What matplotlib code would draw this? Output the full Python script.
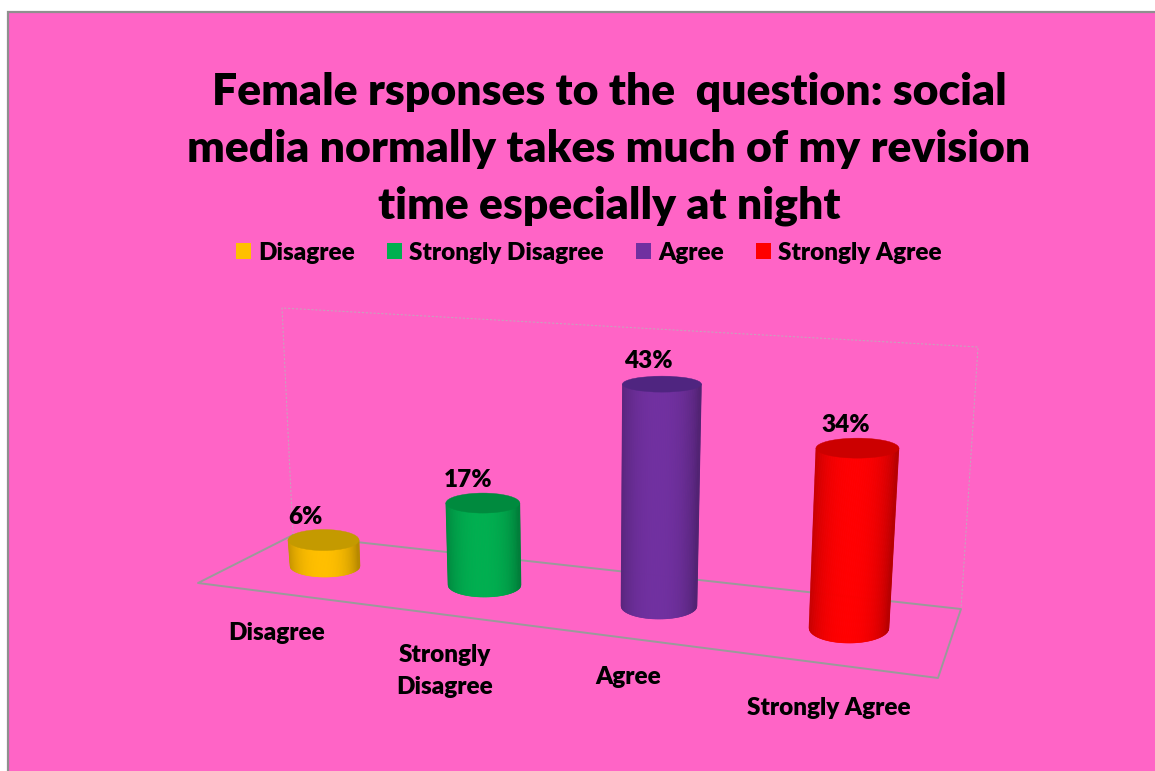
import matplotlib
matplotlib.use("Agg")
import matplotlib.pyplot as plt
from matplotlib.collections import PolyCollection
from matplotlib.patches import Ellipse, Patch, Rectangle
import numpy as np

plt.rcParams["font.family"] = ["Lato", "DejaVu Sans"]
plt.rcParams["font.weight"] = "bold"

categories = ["Disagree", "Strongly Disagree", "Agree", "Strongly Agree"]
tick_labels = ["Disagree", "Strongly\nDisagree", "Agree", "Strongly Agree"]
values = [6, 17, 43, 34]

colors = ["#FFC000", "#00B050", "#7030A0", "#FF0000"]
top_colors = ["#C49A00", "#008A3E", "#4F2580", "#CC0000"]
pink = "#FF64C6"

# floor position and perspective of each cylinder
base_x = [325, 484.5, 659, 849]
base_y = [566, 585, 606, 628]
px_per_pct = [4.33, 4.82, 5.16, 5.29]
rx_bottom = [35, 36.5, 38, 40]
rx_top = [35.5, 37, 39.5, 41.5]
ry_bottom = [11, 12, 13, 15]
ry_top = [10.5, 10, 8, 10]
vanish_x = 587
lean = 0.00095

tick_x = [277, 445, 628, 829]
tick_y = [633, 671, 677, 708]
label_dx = [-18, -15, -14, -12]


def cylinder(ax, x, y, value, scale, rx_b, rx_t, ry_b, ry_t, color, top_color):
    h = value * scale
    top_x = x + (x - vanish_x) * lean * value
    top_y = y - h

    t = np.linspace(-1, 1, 121)
    polys = []
    shades = []
    for a, b in zip(t[:-1], t[1:]):
        polys.append([
            (top_x + a * rx_t, top_y),
            (top_x + b * rx_t, top_y),
            (x + b * rx_b, y + ry_b * np.sqrt(1 - b ** 2)),
            (x + a * rx_b, y + ry_b * np.sqrt(1 - a ** 2)),
        ])
        mid = (a + b) / 2 + 0.05
        shades.append(0.72 + 0.28 * np.clip(1 - abs(mid) ** 2.4, 0, 1) ** 0.8)

    rgb = np.array(matplotlib.colors.to_rgb(color))
    face = [tuple(rgb * s) for s in shades]
    ax.add_collection(PolyCollection(polys, facecolors=face, edgecolors=face,
                                     linewidths=0.4, zorder=3))
    ax.add_patch(Ellipse((top_x, top_y), 2 * rx_t, 2 * ry_t, facecolor=top_color,
                         edgecolor=top_color, linewidth=0.3, zorder=4))
    return top_x, top_y


fig = plt.figure(figsize=(11.55, 7.71), dpi=100, facecolor="white")
ax = fig.add_axes([0, 0, 1, 1])
ax.set_xlim(0, 1155)
ax.set_ylim(771, 0)
ax.axis("off")

ax.add_patch(Rectangle((8, 12), 1150, 762, facecolor=pink, edgecolor="#8F8F8F",
                       linewidth=1.6, zorder=0))

# back wall, very faint
wall_x = [293, 282, 978, 961]
wall_y = [535, 308, 347, 609]
ax.plot(wall_x, wall_y, color="#C9A0BC", linewidth=0.8, linestyle=(0, (2, 1.5)), zorder=1)

# floor
floor_x = [293, 198, 938, 961, 293]
floor_y = [535, 583, 678, 609, 535]
ax.plot(floor_x, floor_y, color="#9A9A9A", linewidth=1.4, zorder=2)

for i, v in enumerate(values):
    tx, ty = cylinder(ax, base_x[i], base_y[i], v, px_per_pct[i], rx_bottom[i],
                      rx_top[i], ry_bottom[i], ry_top[i], colors[i], top_colors[i])
    ax.text(tx + label_dx[i], ty - 23, f"{v}%", ha="center", va="center",
            fontsize=17.5, fontweight=800, color="black", zorder=5)
    ax.text(tick_x[i], tick_y[i], tick_labels[i], ha="center", va="center",
            fontsize=17.5, fontweight=800, color="black", linespacing=1.5)

ax.text(609, 149, "Female rsponses to the  question: social\n"
        "media normally takes much of my revision\n"
        "time especially at night", ha="center", va="center",
        fontsize=32, fontweight=800, color="black", linespacing=1.51)

handles = [Patch(facecolor=c, edgecolor="none") for c in colors]
ax.legend(handles, categories, loc="center", bbox_to_anchor=(589, 252.5),
          bbox_transform=ax.transData, ncol=4, frameon=False,
          prop={"size": 17.5, "weight": 800},
          handlelength=0.62, handleheight=0.62, handletextpad=0.29,
          columnspacing=1.33, borderpad=0, borderaxespad=0)

fig.savefig("out.png", dpi=100, facecolor="white")
plt.close(fig)
